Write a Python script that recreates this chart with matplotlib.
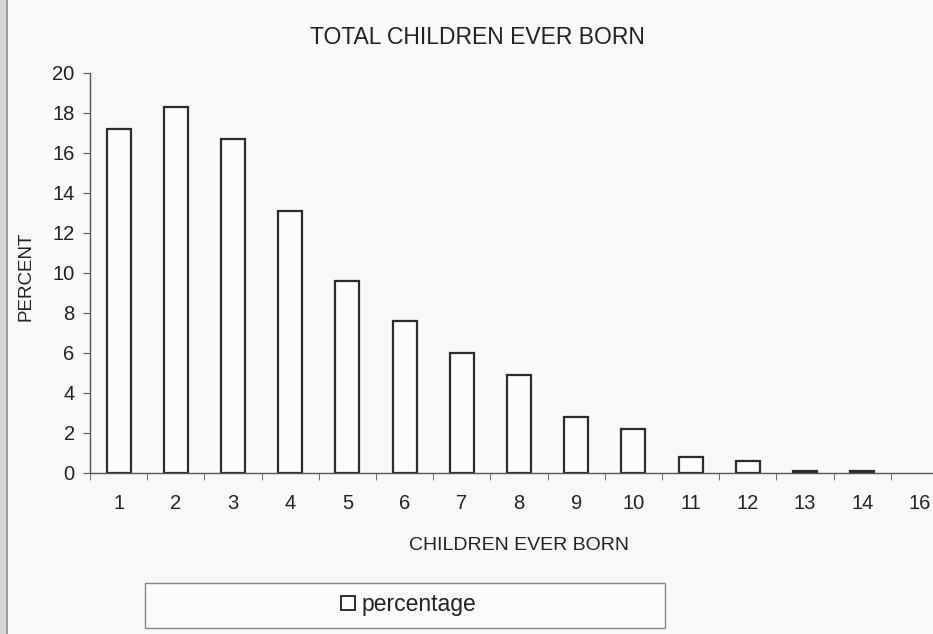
import numpy as np
import matplotlib.pyplot as plt
from matplotlib.patches import Rectangle
from matplotlib.lines import Line2D

plt.rcParams['font.family'] = ['Liberation Sans', 'DejaVu Sans']

# values
children = ['1', '2', '3', '4', '5', '6', '7', '8', '9', '10', '11', '12', '13', '14', '16']
percentage = [17.2, 18.3, 16.7, 13.1, 9.6, 7.6, 6.0, 4.9, 2.8, 2.2, 0.8, 0.6, 0.1, 0.1, 0.0]
y_ticks = [0, 2, 4, 6, 8, 10, 12, 14, 16, 18, 20]

W, H = 933, 634
fig = plt.figure(figsize=(W / 100, H / 100), dpi=100)
fig.patch.set_facecolor('#f8f8f8')

# gray scan strip at the left edge
fig.patches.append(Rectangle((0, 0), 7 / W, 1, transform=fig.transFigure,
                             facecolor='#d4d4d4', edgecolor='none'))
fig.add_artist(Line2D([7 / W, 7 / W], [0, 1], transform=fig.transFigure,
                      color='#8c8c8c', lw=1.2))

# plot area runs past the right edge of the scan, as in the reference
ax = fig.add_axes([90 / W, 1 - 473 / H, 858 / W, 400 / H])
ax.set_facecolor('none')

x = np.arange(len(children))
edges = ['#2b2b2b' if v > 0 else 'none' for v in percentage]
ax.bar(x, percentage, width=0.42, facecolor='#fbfbfb', edgecolor=edges, lw=1.6)

ax.set_xlim(-0.5, len(children) - 0.5)
ax.set_ylim(0, 20)
ax.set_yticks(y_ticks)
ax.tick_params(axis='y', labelsize=14.5, length=5, color='#555555', pad=6,
               labelcolor='#222222')

ax.set_xticks(x)
ax.set_xticklabels(children)
ax.tick_params(axis='x', which='major', length=0, labelsize=14.5, pad=15,
               labelcolor='#222222')
ax.set_xticks(np.arange(len(children)) - 0.5, minor=True)
ax.tick_params(axis='x', which='minor', length=5, color='#555555')

for s in ['top', 'right']:
    ax.spines[s].set_visible(False)
for s in ['left', 'bottom']:
    ax.spines[s].set_color('#555555')
    ax.spines[s].set_linewidth(1.0)

fig.text(477 / W, 1 - 38 / H, 'TOTAL CHILDREN EVER BORN', ha='center', va='center',
         fontsize=16.5, color='#222222')
fig.text(519 / W, 1 - 545 / H, 'CHILDREN EVER BORN', ha='center', va='center',
         fontsize=14, color='#222222')
fig.text(26 / W, 1 - 276 / H, 'PERCENT', ha='center', va='center', rotation=90,
         fontsize=13.5, color='#222222')

# legend box below the chart
fig.patches.append(Rectangle((145 / W, 1 - 628 / H), 520 / W, 45 / H,
                             transform=fig.transFigure, facecolor='#fbfbfb',
                             edgecolor='#888888', lw=1))
handle = Line2D([], [], marker='s', ls='none', markersize=10,
                markerfacecolor='#fbfbfb', markeredgecolor='#2b2b2b', markeredgewidth=1.4)
fig.legend([handle], ['percentage'], loc='center', bbox_to_anchor=(408 / W, 1 - 605 / H),
           frameon=False, fontsize=16.5, handletextpad=0.25, handlelength=0.7,
           borderpad=0, labelcolor='#222222')

fig.savefig('out.png', dpi=100, facecolor=fig.get_facecolor())
